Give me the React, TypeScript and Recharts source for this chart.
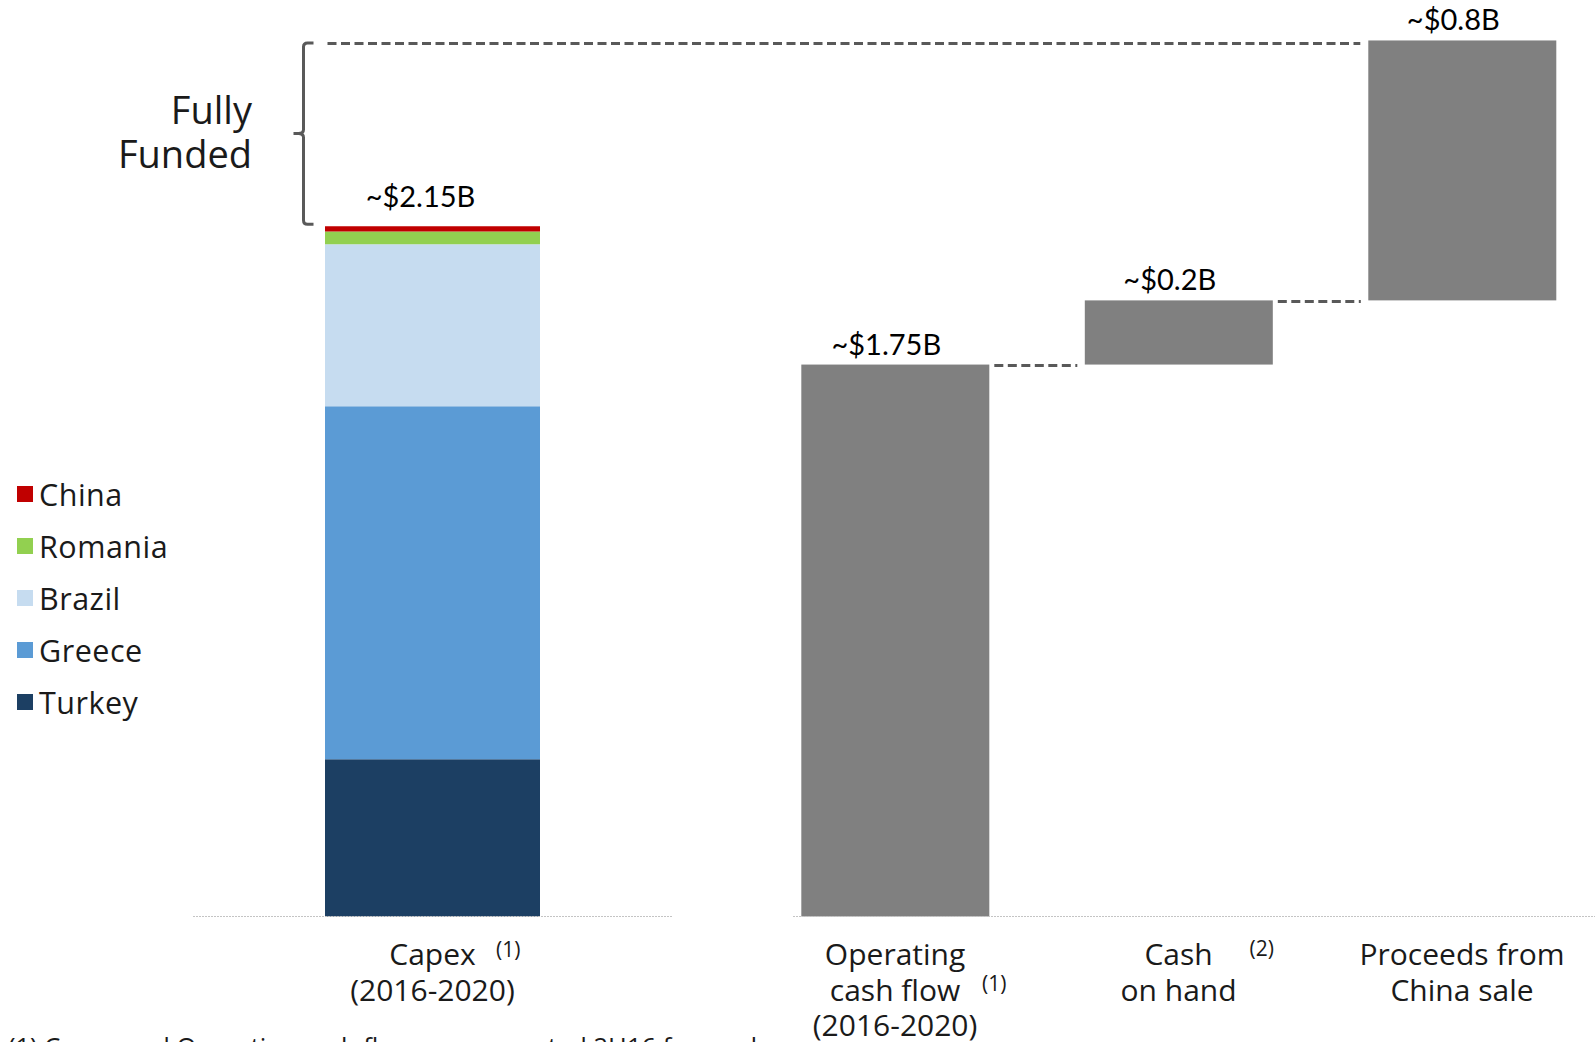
import React from 'react'
import { BarChart, Bar, XAxis, YAxis, Legend, LabelList, ReferenceArea } from 'recharts'

// capex split by country (US$ B), bottom to top of the stack
const CAPEX_COUNTRIES = ['Turkey', 'Greece', 'Brazil', 'Romania', 'China']
const CAPEX_VALUES = [0.49, 1.1, 0.505, 0.04, 0.016]
const CAPEX_COLORS = ['#1c3f63', '#5b9bd5', '#c6dcf0', '#92d050', '#c00000']
const CAPEX_LABEL = '~$2.15B'
const CAPEX_TICK = ['Capex', '(2016-2020)']
const CAPEX_NOTE = '(1)'

// sources of funding (US$ B), waterfall order
const FUNDING_VALUES = [1.72, 0.2, 0.81]
const FUNDING_LABELS = ['~$1.75B', '~$0.2B', '~$0.8B']
const FUNDING_TICKS = [
  ['Operating', 'cash flow', '(2016-2020)'],
  ['Cash', 'on hand'],
  ['Proceeds from', 'China sale'],
]
const FUNDING_NOTES = ['(1)', '(2)', '']

const FOOTNOTE = '(1) Capex and Operating cash flow are presented 2H16 forward'

// layout
const W = 1595
const H = 1042
const FONT = '"Open Sans", sans-serif'
const LABEL_FONT = 'Lato, sans-serif'
const TEXT = '#1a1a1a'
const DASH = '#595959'
const BAR_GREY = '#808080'
const Y_MAX = 2.8
const MARGIN_TOP = 18
const MARGIN_BOTTOM = 5.5
const AXIS_H = 120
const BRACKET_X = 303.5
const BAR_GAP = 95
const LINE_STEP = 35.5
const FIRST_LINE = 48.5
const NOTE_POS = [
  { line: 1, dx: 87, dy: -10 },
  { line: 0, dx: 71, dy: -9 },
  null,
]

const capexRow: Record<string, number | string> = { name: 'capex' }
CAPEX_COUNTRIES.forEach((c, i) => (capexRow[c] = CAPEX_VALUES[i]))
const capexData = [capexRow]
const capexTotal = CAPEX_VALUES.reduce((a, b) => a + b, 0)

let running = 0
const fundingData = FUNDING_VALUES.map((v, i) => {
  const row = { pos: i + 1, base: running, value: v }
  running += v
  return row
})
const fundingTotal = running

const axisLine = { stroke: '#c4c4c4', strokeDasharray: '2 1', strokeWidth: 1 }
const dashStyle = { stroke: DASH, strokeWidth: 3, strokeDasharray: '9 4.5' }

function CapexTick({ x, y }: any) {
  return (
    <g fontFamily={FONT} fill={TEXT}>
      {CAPEX_TICK.map((line, i) => (
        <text key={i} x={x} y={y + FIRST_LINE + i * LINE_STEP} textAnchor="middle" fontSize={30}>
          {line}
        </text>
      ))}
      <text x={x + 63.5} y={y + FIRST_LINE - 8} fontSize={21}>
        {CAPEX_NOTE}
      </text>
    </g>
  )
}

function FundingTick({ x, y, payload }: any) {
  const i = Math.round(payload.value) - 1
  const lines = FUNDING_TICKS[i] ?? []
  const note = NOTE_POS[i]
  return (
    <g fontFamily={FONT} fill={TEXT}>
      {lines.map((line, k) => (
        <text key={k} x={x} y={y + FIRST_LINE + k * LINE_STEP} textAnchor="middle" fontSize={30}>
          {line}
        </text>
      ))}
      {note && (
        <text x={x + note.dx} y={y + FIRST_LINE + note.line * LINE_STEP + note.dy} fontSize={21}>
          {FUNDING_NOTES[i]}
        </text>
      )}
    </g>
  )
}

function CapexLegend({ payload }: any) {
  const items = [...(payload ?? [])].sort(
    (a: any, b: any) => CAPEX_COUNTRIES.indexOf(b.value) - CAPEX_COUNTRIES.indexOf(a.value)
  )
  return (
    <div style={{ fontFamily: FONT, fontSize: 30.5, letterSpacing: 0.5, color: TEXT }}>
      {items.map((it: any) => (
        <div key={it.value} style={{ height: 52, display: 'flex', alignItems: 'center' }}>
          <span style={{ width: 16, height: 16, background: it.color, marginLeft: 17, marginRight: 6 }} />
          <span>{it.value}</span>
        </div>
      ))}
    </div>
  )
}

function CapexLabel({ x, y, width }: any) {
  return (
    <text x={x + width / 2 - 12} y={y - 19} textAnchor="middle" fontFamily={LABEL_FONT} fontSize={29} fill="#000">
      {CAPEX_LABEL}
    </text>
  )
}

function FundingLabel({ x, y, width, index }: any) {
  return (
    <text x={x + width / 2 - 9} y={y - 10} textAnchor="middle" fontFamily={LABEL_FONT} fontSize={29} fill="#000">
      {FUNDING_LABELS[index]}
    </text>
  )
}

function Bracket({ y, height }: any) {
  const top = y + 2.5
  const bottom = y + height - 2
  const mid = (top + bottom) / 2
  const x = BRACKET_X
  const d =
    `M ${x + 10} ${top} L ${x + 4} ${top} Q ${x} ${top} ${x} ${top + 4} L ${x} ${mid - 4} ` +
    `Q ${x} ${mid} ${x - 5} ${mid} L ${x - 10} ${mid} M ${x - 5} ${mid} Q ${x} ${mid} ${x} ${mid + 4} ` +
    `L ${x} ${bottom - 4} Q ${x} ${bottom} ${x + 4} ${bottom} L ${x + 10} ${bottom}`
  return (
    <g>
      <path d={d} fill="none" stroke={DASH} strokeWidth={3} />
      <text x={252} y={mid - 10} textAnchor="end" fontFamily={FONT} fontSize={38} fill={TEXT}>
        Fully
      </text>
      <text x={252} y={mid + 34} textAnchor="end" fontFamily={FONT} fontSize={38} fill={TEXT}>
        Funded
      </text>
    </g>
  )
}

function FundingBar(props: any) {
  const { x, y, width, height } = props
  const i = props.index ?? (props.payload?.pos ?? 1) - 1
  const last = i === FUNDING_VALUES.length - 1
  return (
    <g>
      <rect x={x} y={y} width={width} height={height} fill={BAR_GREY} />
      {!last && <line x1={x + width + 5} x2={x + width + BAR_GAP - 7} y1={y + 1} y2={y + 1} {...dashStyle} />}
      {last && <line x1={BRACKET_X + 24} x2={x - 8} y1={y + 3} y2={y + 3} {...dashStyle} />}
    </g>
  )
}

export default function App() {
  return (
    <div
      style={{
        position: 'absolute',
        left: 0,
        top: 0,
        width: W,
        height: H,
        overflow: 'hidden',
        background: '#fff',
        fontFamily: FONT,
      }}
    >
      <div style={{ position: 'absolute', left: 0, top: 0 }}>
        <BarChart
          width={W}
          height={H}
          data={capexData}
          barSize={215}
          margin={{ top: MARGIN_TOP, right: W - 672, bottom: MARGIN_BOTTOM, left: 193 }}
        >
          <XAxis
            dataKey="name"
            height={AXIS_H}
            axisLine={axisLine}
            tickLine={false}
            tickSize={0}
            tickMargin={0}
            tick={<CapexTick />}
            interval={0}
          />
          <YAxis hide domain={[0, Y_MAX]} />
          <ReferenceArea y1={capexTotal} y2={fundingTotal} shape={<Bracket />} />
          <Legend
            layout="vertical"
            align="center"
            verticalAlign="middle"
            wrapperStyle={{ left: 0, top: 468, width: 220 }}
            content={<CapexLegend />}
          />
          {CAPEX_COUNTRIES.map((c, i) => (
            <Bar key={c} dataKey={c} stackId="capex" fill={CAPEX_COLORS[i]} isAnimationActive={false}>
              {i === CAPEX_COUNTRIES.length - 1 && <LabelList content={<CapexLabel />} />}
            </Bar>
          ))}
        </BarChart>
      </div>
      <div style={{ position: 'absolute', left: 0, top: 0 }}>
        <BarChart
          width={W}
          height={H}
          data={fundingData}
          barSize={188}
          margin={{ top: MARGIN_TOP, right: 0, bottom: MARGIN_BOTTOM, left: 793 }}
        >
          <XAxis
            type="number"
            dataKey="pos"
            domain={[0.64, 3.469]}
            ticks={[1, 2, 3]}
            height={AXIS_H}
            axisLine={axisLine}
            tickLine={false}
            tickSize={0}
            tickMargin={0}
            tick={<FundingTick />}
            interval={0}
          />
          <YAxis hide domain={[0, Y_MAX]} />
          <Bar dataKey="base" stackId="wf" fill="transparent" isAnimationActive={false} />
          <Bar dataKey="value" stackId="wf" fill={BAR_GREY} shape={FundingBar} isAnimationActive={false}>
            <LabelList content={<FundingLabel />} />
          </Bar>
        </BarChart>
      </div>
      <div
        style={{
          position: 'absolute',
          left: 8,
          top: 1029,
          fontSize: 25.5,
          color: TEXT,
          whiteSpace: 'nowrap',
        }}
      >
        {FOOTNOTE}
      </div>
    </div>
  )
}
